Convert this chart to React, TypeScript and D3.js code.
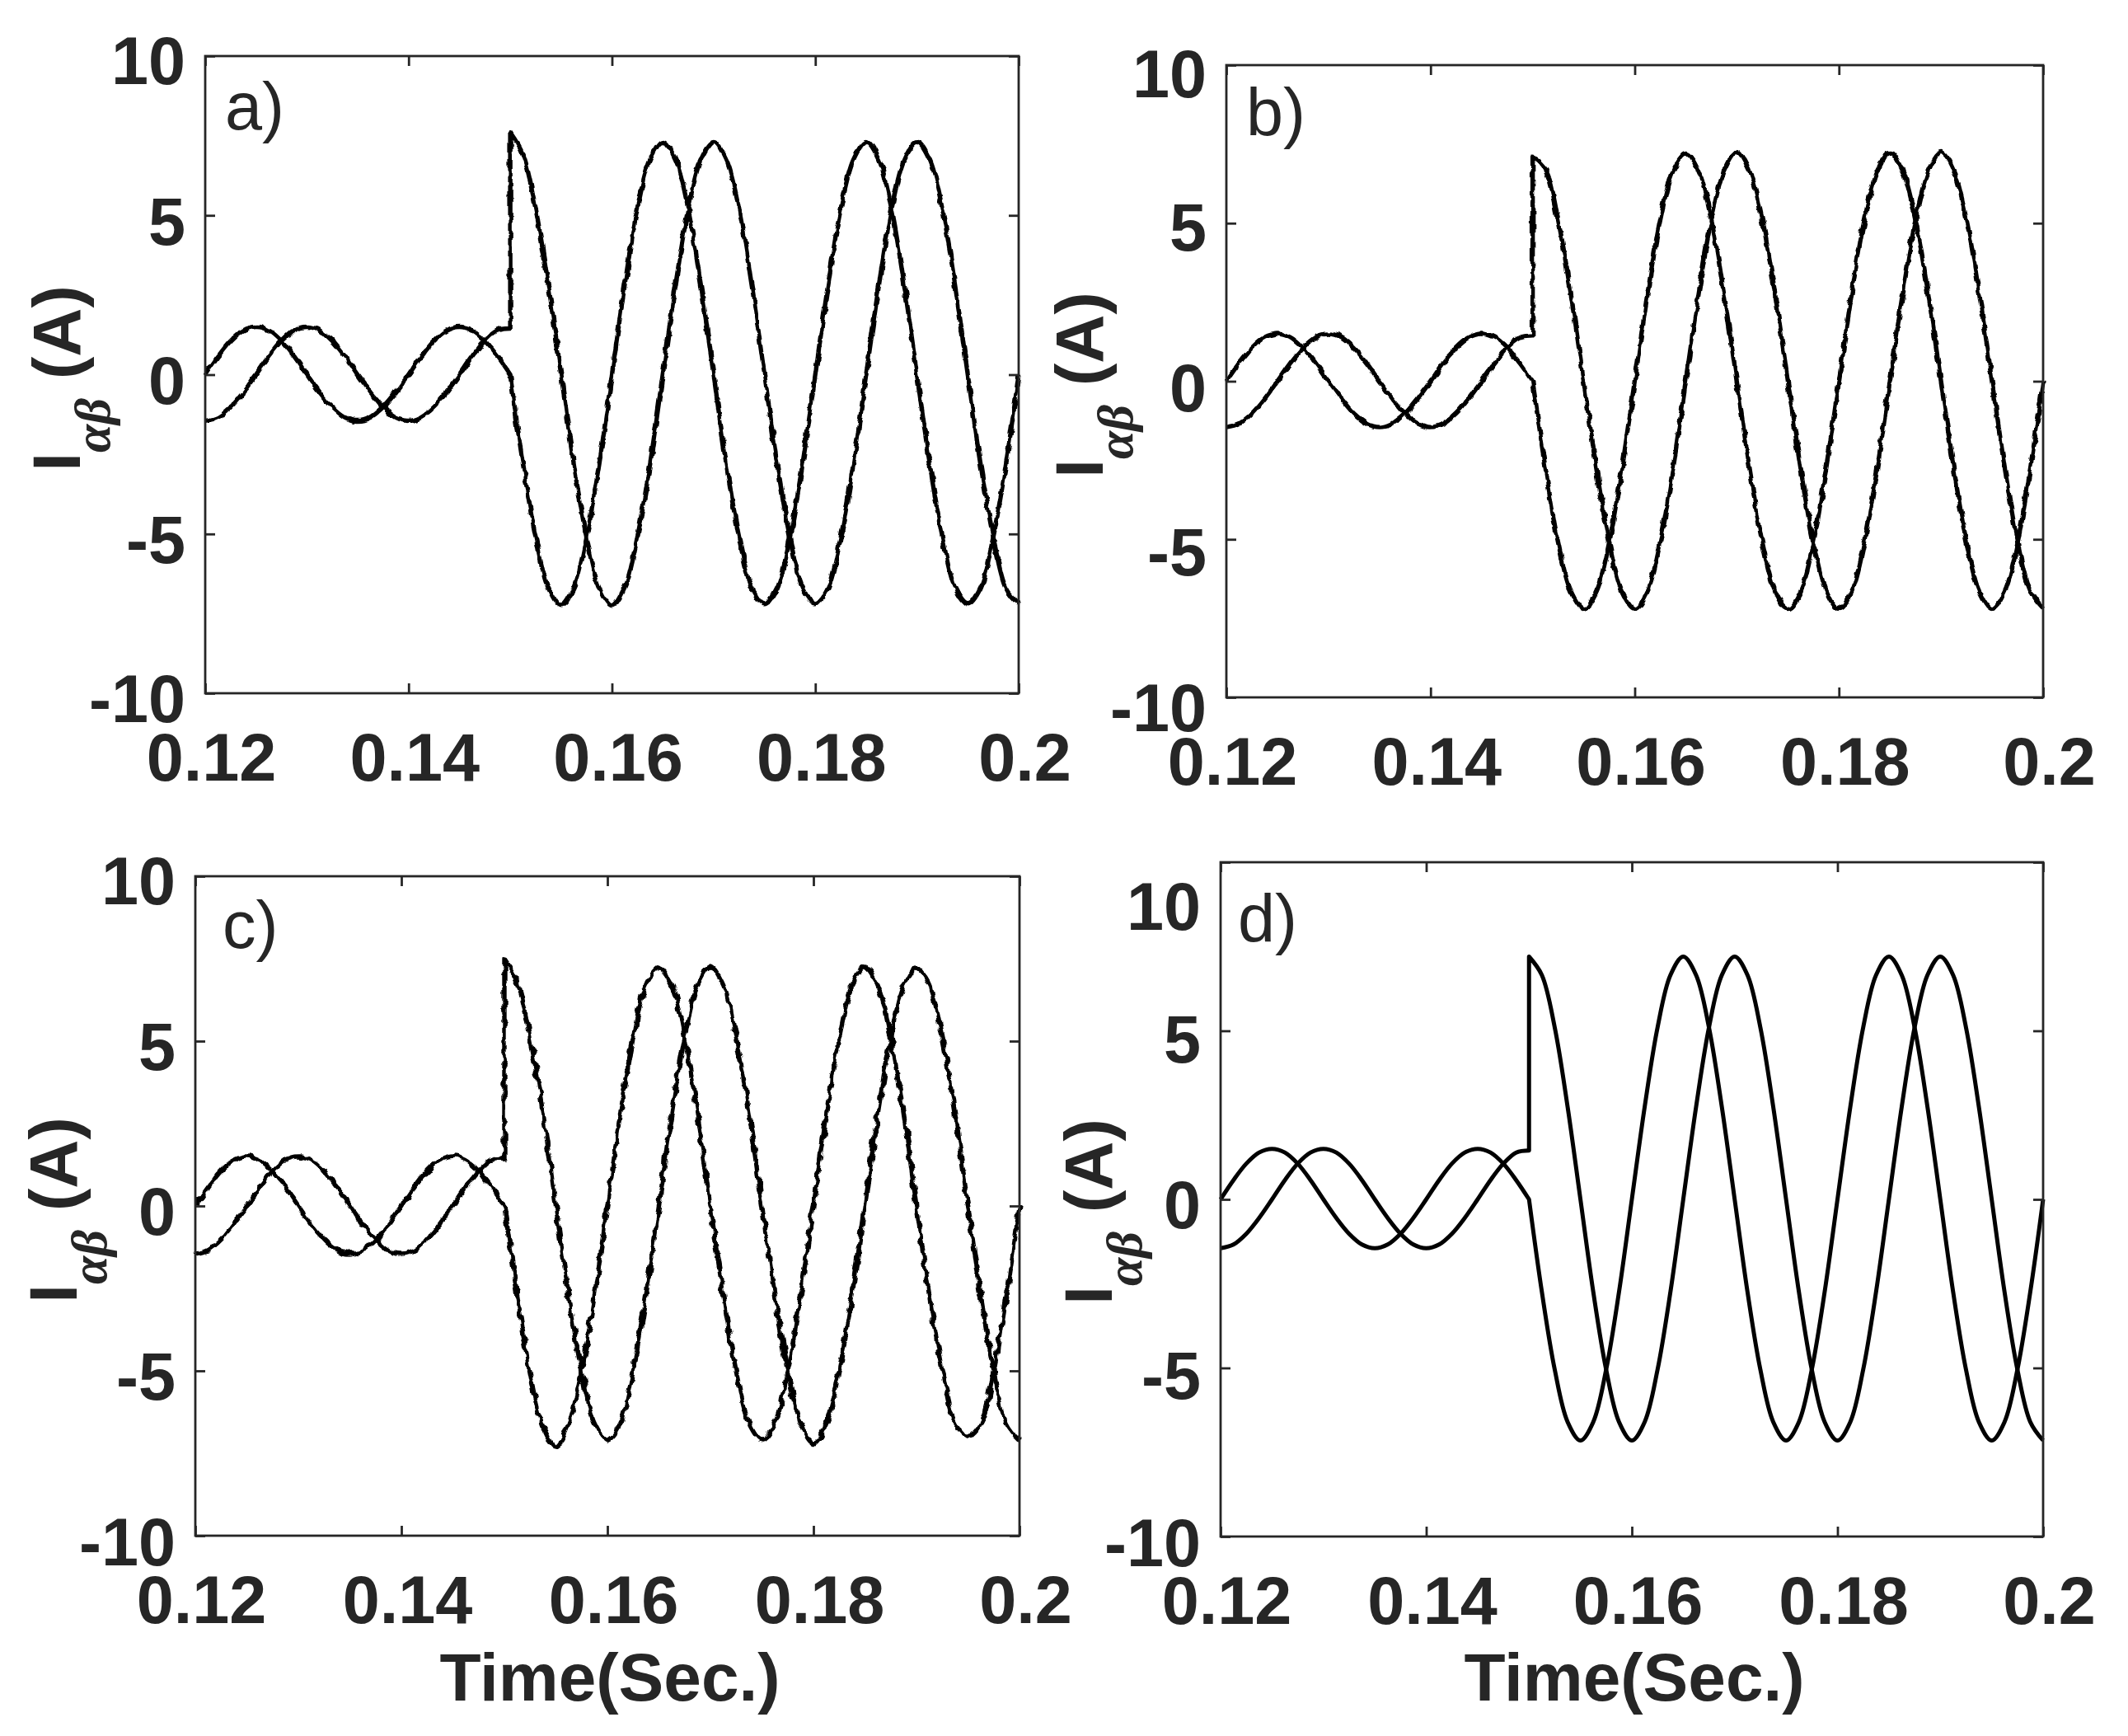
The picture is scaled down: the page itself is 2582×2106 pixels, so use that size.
import React, { useRef, useEffect } from "react";
import {
  select,
  scaleLinear,
  axisBottom,
  axisLeft,
  axisTop,
  axisRight,
  line,
  curveCatmullRom,
} from "d3";

// sample times (s), read every 1/16 of a 50 Hz period
const timePre = [
  0.12, 0.12125, 0.1225, 0.12375, 0.125, 0.12625, 0.1275, 0.12875, 0.13,
  0.13125, 0.1325, 0.13375, 0.135, 0.13625, 0.1375, 0.13875, 0.14, 0.14125,
  0.1425, 0.14375, 0.145, 0.14625, 0.1475, 0.14875, 0.15,
];
const timePost = [
  0.15, 0.15125, 0.1525, 0.15375, 0.155, 0.15625, 0.1575, 0.15875, 0.16,
  0.16125, 0.1625, 0.16375, 0.165, 0.16625, 0.1675, 0.16875, 0.17, 0.17125,
  0.1725, 0.17375, 0.175, 0.17625, 0.1775, 0.17875, 0.18, 0.18125, 0.1825,
  0.18375, 0.185, 0.18625, 0.1875, 0.18875, 0.19, 0.19125, 0.1925, 0.19375,
  0.195, 0.19625, 0.1975, 0.19875, 0.2,
];

// before the step (same in all four panels)
const alphaPre = [
  0, 0.57, 1.06, 1.39, 1.5, 1.39, 1.06, 0.57, 0, -0.55, -1.02, -1.34, -1.45,
  -1.34, -1.02, -0.55, 0, 0.57, 1.06, 1.39, 1.5, 1.39, 1.06, 0.57, 0,
];
const betaPre = [
  -1.45, -1.34, -1.02, -0.55, 0, 0.57, 1.06, 1.39, 1.5, 1.39, 1.06, 0.57, 0,
  -0.55, -1.02, -1.34, -1.45, -1.34, -1.02, -0.55, 0, 0.57, 1.06, 1.39, 1.45,
];

// after the step
const alphaPostA = [
  0, -2.8, -5.1, -6.7, -7.25, -6.7, -5.1, -2.8, 0, 2.8, 5.2, 6.75, 7.3, 6.75,
  5.2, 2.8, 0, -2.8, -5.1, -6.7, -7.2, -6.7, -5.1, -2.8, 0, 2.8, 5.2, 6.75, 7.3,
  6.75, 5.2, 2.8, 0, -2.8, -5.1, -6.7, -7.2, -6.7, -5.1, -2.8, 0,
];
const betaPostA = [
  7.6, 6.9, 5.2, 2.8, 0, -2.8, -5.1, -6.7, -7.25, -6.7, -5.1, -2.8, 0, 2.8,
  5.2, 6.75, 7.3, 6.75, 5.2, 2.8, 0, -2.8, -5.1, -6.7, -7.2, -6.7, -5.1, -2.8,
  0, 2.8, 5.2, 6.75, 7.3, 6.75, 5.2, 2.8, 0, -2.8, -5.1, -6.7, -7.2,
];
const alphaPostB = [
  0, -2.75, -5.1, -6.65, -7.2, -6.65, -5.1, -2.75, 0, 2.75, 5.1, 6.65, 7.2,
  6.65, 5.1, 2.75, 0, -2.75, -5.1, -6.65, -7.2, -6.65, -5.1, -2.75, 0, 2.75,
  5.1, 6.65, 7.25, 6.65, 5.1, 2.75, 0, -2.75, -5.1, -6.65, -7.2, -6.65, -5.1,
  -2.75, 0,
];
const betaPostB = [
  7.1, 6.7, 5.1, 2.75, 0, -2.75, -5.1, -6.65, -7.2, -6.65, -5.1, -2.75, 0,
  2.75, 5.1, 6.65, 7.25, 6.65, 5.1, 2.75, 0, -2.75, -5.1, -6.65, -7.2, -6.65,
  -5.1, -2.75, 0, 2.75, 5.1, 6.65, 7.25, 6.65, 5.1, 2.75, 0, -2.75, -5.1,
  -6.65, -7.2,
];
const alphaPostC = [
  0, -2.7, -5.1, -6.7, -7.3, -6.6, -5.0, -2.7, 0, 2.8, 5.1, 6.7, 7.2, 6.7, 5.1,
  2.8, 0, -2.7, -5.0, -6.6, -7.1, -6.6, -5.0, -2.7, 0, 2.8, 5.1, 6.7, 7.25, 6.7,
  5.1, 2.8, 0, -2.7, -5.0, -6.6, -7.0, -6.6, -5.0, -2.7, 0,
];
const betaPostC = [
  7.5, 6.8, 5.1, 2.8, 0, -2.7, -5.0, -6.6, -7.1, -6.6, -5.0, -2.7, 0, 2.8, 5.1,
  6.7, 7.25, 6.7, 5.1, 2.8, 0, -2.7, -5.0, -6.6, -7.2, -6.6, -5.0, -2.7, 0, 2.8,
  5.1, 6.7, 7.2, 6.7, 5.1, 2.8, 0, -2.7, -5.0, -6.6, -7.1,
];
const alphaPostD = [
  0, -2.75, -5.05, -6.6, -7.15, -6.6, -5.05, -2.75, 0, 2.75, 5.1, 6.65, 7.2,
  6.65, 5.1, 2.75, 0, -2.75, -5.05, -6.6, -7.15, -6.6, -5.05, -2.75, 0, 2.75,
  5.1, 6.65, 7.2, 6.65, 5.1, 2.75, 0, -2.75, -5.05, -6.6, -7.15, -6.6, -5.05,
  -2.75, 0,
];
const betaPostD = [
  7.2, 6.65, 5.1, 2.75, 0, -2.75, -5.05, -6.6, -7.15, -6.6, -5.05, -2.75, 0,
  2.75, 5.1, 6.65, 7.2, 6.65, 5.1, 2.75, 0, -2.75, -5.05, -6.6, -7.15, -6.6,
  -5.05, -2.75, 0, 2.75, 5.1, 6.65, 7.2, 6.65, 5.1, 2.75, 0, -2.75, -5.05,
  -6.6, -7.15,
];

const xTicks = [0.12, 0.14, 0.16, 0.18, 0.2];
const xTickLabels = ["0.12", "0.14", "0.16", "0.18", "0.2"];
const yTicks = [-10, -5, 0, 5, 10];
const yTickLabels = ["-10", "-5", "0", "5", "10"];
const panelLetters = ["a)", "b)", "c)", "d)"];
const xTitle = "Time(Sec.)";

const SANS = "'Liberation Sans', Arial, Helvetica, sans-serif";
const INK = "#262626";

// where each axes box sits on the page
const layout = [
  { left: 249, right: 1236, top: 68, bottom: 841, ylab: 152, ylabY: 459,
    yShift: [6, 6, 6, 6, 5], letter: [24, 89], ripple: 7, width: 5.4, title: false },
  { left: 1488, right: 2479, top: 79, bottom: 846, ylab: 150, ylabY: 467,
    yShift: [12, 14, 7, 4, 10], letter: [24, 85], ripple: 7, width: 5.4, title: false },
  { left: 237, right: 1237, top: 1063, bottom: 1863, ylab: 144, ylabY: 1468,
    yShift: [7, 6, 6, 6, 5], letter: [33, 87], ripple: 10, width: 5.4, title: true },
  { left: 1481, right: 2479, top: 1046, bottom: 1864, ylab: 132, ylabY: 1470,
    yShift: [7, 8, 6, 9, 53], letter: [21, 96], ripple: 0, width: 5, title: true },
];
const postData = [
  [alphaPostA, betaPostA],
  [alphaPostB, betaPostB],
  [alphaPostC, betaPostC],
  [alphaPostD, betaPostD],
];

function App() {
  const svgRef = useRef<SVGSVGElement>(null);

  useEffect(() => {
    const svg = select(svgRef.current);
    svg.selectAll("*").remove();
    const defs = svg.append("defs");

    layout.forEach((p, i) => {
      const x = scaleLinear().domain([0.12, 0.2]).range([p.left, p.right]);
      const y = scaleLinear().domain([-10, 10]).range([p.bottom, p.top]);
      const g = svg.append("g");

      // small high-frequency ripple of the measured currents
      if (p.ripple) {
        const filter = defs
          .append("filter")
          .attr("id", `ripple${i}`)
          .attr("x", "-2%")
          .attr("y", "-2%")
          .attr("width", "104%")
          .attr("height", "104%");
        filter
          .append("feTurbulence")
          .attr("type", "fractalNoise")
          .attr("baseFrequency", "0.1")
          .attr("numOctaves", 1)
          .attr("seed", 4 + i)
          .attr("result", "noise");
        filter
          .append("feDisplacementMap")
          .attr("in", "SourceGraphic")
          .attr("in2", "noise")
          .attr("scale", p.ripple)
          .attr("xChannelSelector", "R")
          .attr("yChannelSelector", "G");
      }

      const lineGen = line<[number, number]>()
        .x(d => x(d[0]))
        .y(d => y(d[1]))
        .curve(curveCatmullRom.alpha(0.5));

      const series = [
        [alphaPre, postData[i][0]],
        [betaPre, postData[i][1]],
      ];
      const lines = g
        .append("g")
        .attr("filter", p.ripple ? `url(#ripple${i})` : null);
      series.forEach(([pre, post]) => {
        const a = lineGen(timePre.map((t, k) => [t, pre[k]] as [number, number])) || "";
        const b = lineGen(timePost.map((t, k) => [t, post[k]] as [number, number])) || "";
        lines
          .append("path")
          .attr("d", a + "L" + b.slice(1))
          .attr("fill", "none")
          .attr("stroke", "#000")
          .attr("stroke-width", p.width)
          .attr("stroke-linejoin", "round");
      });

      // box
      g.append("rect")
        .attr("x", p.left)
        .attr("y", p.top)
        .attr("width", p.right - p.left)
        .attr("height", p.bottom - p.top)
        .attr("fill", "none")
        .attr("stroke", INK)
        .attr("stroke-width", 2.8);

      const styleAxis = (sel: any) => {
        sel.select(".domain").remove();
        sel.attr("color", INK)
          .attr("font-family", SANS)
          .attr("font-size", 81)
          .attr("font-weight", "bold");
        sel.selectAll("line").attr("stroke-width", 2.8);
        sel.selectAll("text").attr("fill", INK);
      };

      g.append("g")
        .attr("transform", `translate(0,${p.bottom})`)
        .call(
          axisBottom(x)
            .tickValues(xTicks)
            .tickFormat((_d, k) => xTickLabels[k])
            .tickSizeInner(-12)
            .tickSizeOuter(0)
            .tickPadding(48)
        )
        .call(styleAxis)
        .selectAll("text")
        .attr("dx", 7);

      g.append("g")
        .attr("transform", `translate(0,${p.top})`)
        .call(axisTop(x).tickValues(xTicks).tickFormat(() => "").tickSizeInner(-12).tickSizeOuter(0))
        .call(styleAxis);

      g.append("g")
        .attr("transform", `translate(${p.left},0)`)
        .call(
          axisLeft(y)
            .tickValues(yTicks)
            .tickFormat((_d, k) => yTickLabels[k])
            .tickSizeInner(-12)
            .tickSizeOuter(0)
            .tickPadding(24)
        )
        .call(styleAxis)
        .selectAll("text")
        .attr("dy", "0.355em")
        .attr("y", (_d: any, k: number) => p.yShift[k]);

      g.append("g")
        .attr("transform", `translate(${p.right},0)`)
        .call(axisRight(y).tickValues(yTicks).tickFormat(() => "").tickSizeInner(-12).tickSizeOuter(0))
        .call(styleAxis);

      // panel letter
      g.append("text")
        .attr("x", p.left + p.letter[0])
        .attr("y", p.top + p.letter[1])
        .attr("font-family", SANS)
        .attr("font-size", 81)
        .attr("fill", INK)
        .text(panelLetters[i]);

      // y label
      const yl = g
        .append("text")
        .attr("transform", `translate(${p.left - p.ylab},${p.ylabY}) rotate(-90)`)
        .attr("text-anchor", "middle")
        .attr("font-family", SANS)
        .attr("font-weight", "bold")
        .attr("font-size", 82)
        .attr("fill", INK);
      yl.append("tspan").text("I");
      yl.append("tspan")
        .attr("font-family", "'Liberation Serif', 'DejaVu Serif', serif")
        .attr("font-style", "italic")
        .attr("font-weight", "bold")
        .attr("font-size", 62)
        .attr("dy", 36)
        .text("αβ");
      yl.append("tspan").attr("dy", -36).text(" (A)");

      if (p.title) {
        g.append("text")
          .attr("x", (p.left + p.right) / 2 + 3)
          .attr("y", 2063)
          .attr("text-anchor", "middle")
          .attr("font-family", SANS)
          .attr("font-weight", "bold")
          .attr("font-size", 82)
          .attr("fill", INK)
          .text(xTitle);
      }
    });
  }, []);

  return (
    <svg
      ref={svgRef}
      width={2582}
      height={2106}
      style={{ position: "absolute", left: 0, top: 0, background: "#fff" }}
    />
  );
}

export default App;
